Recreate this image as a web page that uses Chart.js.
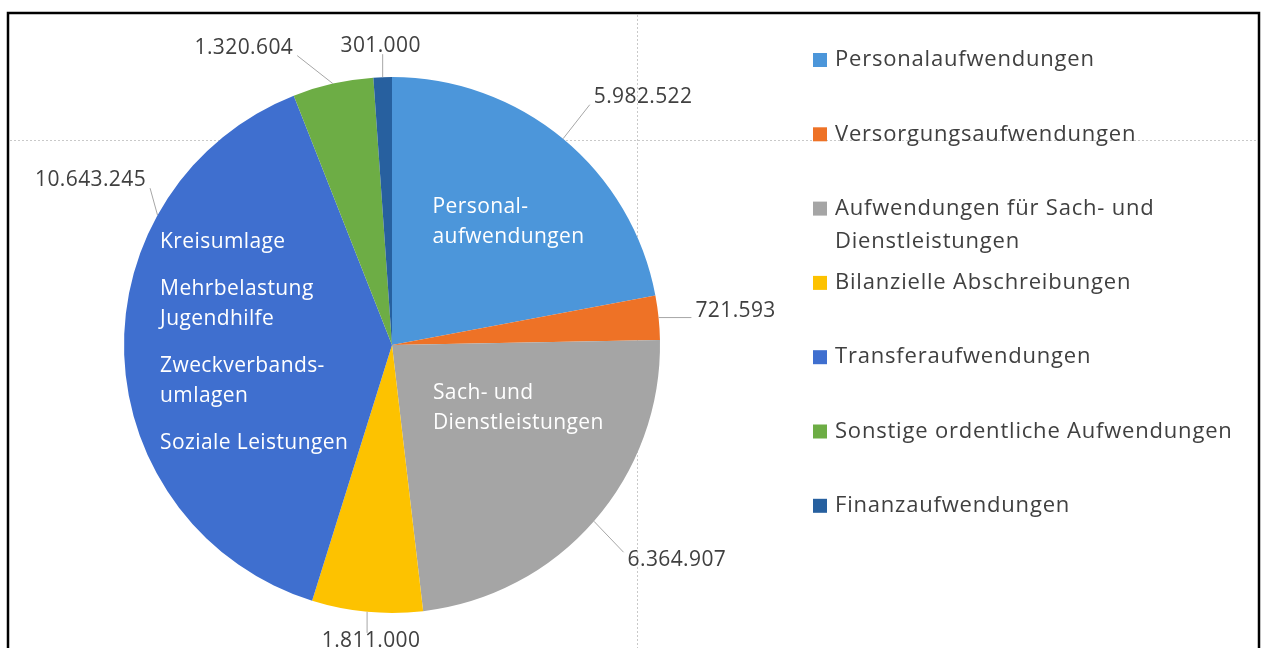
<!DOCTYPE html>
<html>
<head>
<meta charset="utf-8">
<script src="https://cdn.jsdelivr.net/npm/chart.js@4.4.1/dist/chart.umd.min.js"></script>
<style>
  body { margin: 0; background: #fff; }
  canvas { display: block; }
</style>
</head>
<body>
<canvas id="aufwandChart" width="1264" height="648"></canvas>
<script>
// categories and amounts (EUR), clockwise from 12 o'clock
var categories = [
    'Personalaufwendungen',
    'Versorgungsaufwendungen',
    'Aufwendungen für Sach- und Dienstleistungen',
    'Bilanzielle Abschreibungen',
    'Transferaufwendungen',
    'Sonstige ordentliche Aufwendungen',
    'Finanzaufwendungen'
];
var amounts = [5982522, 721593, 6364907, 1811000, 10643245, 1320604, 301000];
var sliceColors = ['#4c96da', '#ee7226', '#a5a5a5', '#fdc200', '#3f6fcf', '#6dad45', '#27609f'];

// text written inside the slices (paragraphs of lines)
var innerTexts = [
    [['Personal-', 'aufwendungen']],
    null,
    [['Sach- und', 'Dienstleistungen']],
    null,
    [['Kreisumlage'], ['Mehrbelastung', 'Jugendhilfe'], ['Zweckverbands-', 'umlagen'], ['Soziale Leistungen']],
    null,
    null
];

// placement of the outside value labels (Excel moved some of them by hand)
var labelAnchor = [0.5, 0.5, 0.5, 0.5, 0.72, 0.5, 0.5];     // where on the arc the leader starts
var labelOffset = [[80, -42], [77, -7], [83, 39], [4, 29], [-67, -35], [-89, -36], [-2, -31]];
var innerOffset = [[-45, -35], null, [-60, -40], null, [-98, -108], null, null];

var FONT = '21px "Open Sans"';
var LEGEND_FONT = '22px "Open Sans"';
var TEXT_COLOR = '#404040';

function formatDE(n) {
    return String(n).replace(/\B(?=(\d{3})+(?!\d))/g, '.');
}

var framePlugin = {
    id: 'frame',
    beforeDraw: function(chart) {
        var ctx = chart.ctx;
        ctx.save();
        // faint dotted gridlines of the sheet behind the chart
        ctx.strokeStyle = '#c9c9c9';
        ctx.lineWidth = 1;
        ctx.setLineDash([2, 2]);
        ctx.beginPath();
        ctx.moveTo(10, 140.5); ctx.lineTo(1258, 140.5);
        ctx.moveTo(637.5, 15); ctx.lineTo(637.5, 648);
        ctx.stroke();
        ctx.setLineDash([]);
        // black border
        ctx.strokeStyle = '#000';
        ctx.lineWidth = 2.5;
        ctx.strokeRect(8, 13, 1251, 660);
        ctx.restore();
    }
};

var labelPlugin = {
    id: 'labels',
    afterDraw: function(chart) {
        var ctx = chart.ctx;
        var meta = chart.getDatasetMeta(0);
        ctx.save();
        ctx.font = FONT;
        ctx.letterSpacing = '0.4px';

        meta.data.forEach(function(arc, i) {
            var p = arc.getProps(['x', 'y', 'startAngle', 'endAngle', 'outerRadius'], true);
            var a = p.startAngle + (p.endAngle - p.startAngle) * labelAnchor[i];
            var ex = p.x + Math.cos(a) * p.outerRadius;
            var ey = p.y + Math.sin(a) * p.outerRadius;
            var txt = formatDE(amounts[i]);
            var w = ctx.measureText(txt).width;
            var cx = ex + labelOffset[i][0];
            var cy = ey + labelOffset[i][1];
            // leader line to the nearest side of the label
            var lx = Math.min(Math.max(ex, cx - w / 2 - 4), cx + w / 2 + 4);
            var ly = Math.min(Math.max(ey, cy - 8), cy + 8);
            ctx.strokeStyle = '#a6a6a6';
            ctx.lineWidth = 1;
            ctx.beginPath();
            ctx.moveTo(ex, ey);
            ctx.lineTo(lx, ly);
            ctx.stroke();
            ctx.fillStyle = TEXT_COLOR;
            ctx.textAlign = 'center';
            ctx.textBaseline = 'middle';
            ctx.fillText(txt, cx, cy);

            // white text inside the slice
            if (innerTexts[i]) {
                var c = arc.getCenterPoint(true);
                var x0 = c.x + innerOffset[i][0];
                var y = c.y + innerOffset[i][1];
                ctx.fillStyle = '#ffffff';
                ctx.textAlign = 'left';
                innerTexts[i].forEach(function(par, k) {
                    if (k > 0) y += 17;
                    par.forEach(function(line, j) {
                        if (j > 0) y += 30;
                        ctx.fillText(line, x0, y);
                    });
                    y += 30;
                });
            }
        });

        // legend on the right
        var ds = chart.data.datasets[0];
        ctx.font = LEGEND_FONT;
        ctx.letterSpacing = '0.8px';
        ctx.textAlign = 'left';
        ctx.textBaseline = 'middle';
        chart.data.labels.forEach(function(label, i) {
            var y = 60 + i * 74.3;
            ctx.fillStyle = ds.backgroundColor[i];
            ctx.fillRect(813, y - 7, 14, 14);
            ctx.fillStyle = TEXT_COLOR;
            var words = label.split(' ');
            var line = '';
            words.forEach(function(word) {
                var test = line ? line + ' ' + word : word;
                if (ctx.measureText(test).width > 415 && line) {
                    ctx.fillText(line, 835, y);
                    y += 33;
                    line = word;
                } else {
                    line = test;
                }
            });
            ctx.fillText(line, 835, y);
        });
        ctx.restore();
    }
};

var ctx = document.getElementById('aufwandChart').getContext('2d');
var aufwandChart = new Chart(ctx, {
    type: 'pie',
    data: {
        labels: categories,
        datasets: [{
            data: amounts,
            backgroundColor: sliceColors,
            borderWidth: 0,
            hoverOffset: 0
        }]
    },
    options: {
        responsive: false,
        animation: false,
        events: [],
        layout: {
            padding: { left: 124, right: 604, top: 77, bottom: 35 }
        },
        plugins: {
            legend: { display: false },
            tooltip: { enabled: false }
        }
    },
    plugins: [framePlugin, labelPlugin]
});
</script>
</body>
</html>
